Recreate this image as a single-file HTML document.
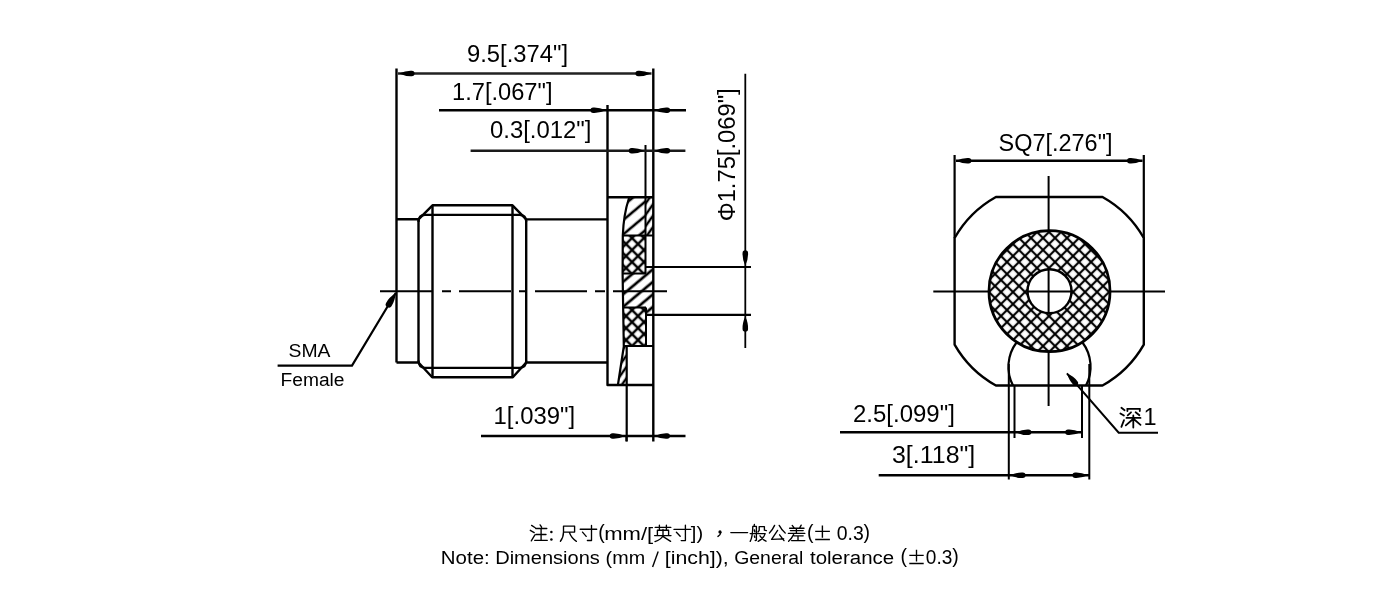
<!DOCTYPE html>
<html><head><meta charset="utf-8"><title>SMA drawing</title>
<style>
html,body{margin:0;padding:0;background:#fff;width:1400px;height:600px;overflow:hidden;}
svg{display:block;filter:grayscale(1);}
text{font-family:"Liberation Sans",sans-serif;fill:#000;}
</style></head><body>
<svg width="1400" height="600" viewBox="0 0 1400 600">
<defs>
  <path id="ar" d="M0,0 Q7,-3.1 12.8,-2.75 A2.75,2.75 0 0 1 12.8,2.75 Q7,3.1 0,0 Z"/>
  <pattern id="xh" width="8.49" height="8.49" patternUnits="userSpaceOnUse" patternTransform="translate(1025,244) rotate(45)">
    <rect x="0" y="0" width="1.12" height="8.49"/><rect x="7.37" y="0" width="1.12" height="8.49"/>
    <rect x="0" y="0" width="8.49" height="1.12"/><rect x="0" y="7.37" width="8.49" height="1.12"/>
  </pattern>
  <pattern id="xh2" width="8.49" height="8.49" patternUnits="userSpaceOnUse" patternTransform="translate(632,238) rotate(45)">
    <rect x="0" y="0" width="1.25" height="8.49"/><rect x="7.24" y="0" width="1.25" height="8.49"/>
    <rect x="0" y="0" width="8.49" height="1.25"/><rect x="0" y="7.24" width="8.49" height="1.25"/>
  </pattern>
  <pattern id="hh" width="11" height="11" patternUnits="userSpaceOnUse" patternTransform="translate(626.25,217.5) rotate(-40)">
    <rect x="0" y="0" width="11" height="1.3"/><rect x="0" y="9.7" width="11" height="1.3"/>
  </pattern>
  <pattern id="hh2" width="9.6" height="9.6" patternUnits="userSpaceOnUse" patternTransform="translate(633,286) rotate(-40)">
    <rect x="0" y="0" width="9.6" height="1.35"/><rect x="0" y="8.25" width="9.6" height="1.35"/>
  </pattern>
  <pattern id="hh3" width="6.5" height="6.5" patternUnits="userSpaceOnUse" patternTransform="translate(649,210) rotate(-55)">
    <rect x="0" y="0" width="6.5" height="1.2"/><rect x="0" y="5.3" width="6.5" height="1.2"/>
  </pattern>
</defs>

<!-- ===== LEFT VIEW: hatch fills ===== -->
<path d="M629,198 H645.5 V235.5 H622.8 Q623.5,215 629,198 Z" fill="url(#hh)"/>
<path d="M645.5,198 H653.3 V235.5 H645.5 Z" fill="url(#hh3)"/>
<path d="M622.8,235.5 H645.5 V273.5 H622.6 Z" fill="url(#xh2)"/>
<path d="M622.6,273.5 H646 V267 H653.3 V314.5 H646 V307.5 H623.2 Z" fill="url(#hh2)"/>
<path d="M623.2,307.5 H645.5 V346 H623.8 Z" fill="url(#xh2)"/>
<path d="M623.8,346.5 H626.7 V384.5 H618 Z" fill="url(#hh3)"/>

<g fill="none" stroke="#000" stroke-width="2.4" stroke-linecap="butt" stroke-linejoin="round">
  <!-- left extension / outline -->
  <path d="M396.5,68.5 V362.5"/>
  <path d="M396.5,219.3 H418.5 L432.5,205.3 H512.5 L526.2,219.4 H607.5"/>
  <path d="M396.5,362.5 H418.5 L432.2,377.3 H512.8 L526.2,362.5 H607.5"/>
  <path d="M418.5,219.5 V362.5 M432.5,205.5 V377.5 M512.5,205.5 V377.5 M526.2,219 V362.5"/>
  <path d="M418.5,222 Q418.5,214.8 425,214.8 H519.5 Q526.2,214.8 526.2,222 M418.5,360.5 Q418.5,367.8 425,367.8 H519.5 Q526.2,367.8 526.2,360.5" stroke-width="2.2"/>
  <!-- flange -->
  <path d="M607.5,105 V385 H653.3"/>
  <path d="M607.5,197.2 H653.3"/>
  <path d="M653.3,68.5 V441.5"/>
  <path d="M645.5,145 V273.5 M646,307.5 V346" stroke-width="2"/>
  <path d="M629,198 Q623.5,215 622.8,235.5 L622.6,273.5 L623.8,346.5 L618,384.5" stroke-width="2.2"/>
  <path d="M622.8,235.5 H653.3 M622.6,273.5 H646 M623.2,307.5 H646 M623.8,346 H653.3" stroke-width="2.2"/>
  <path d="M626.7,346 V441.5" stroke-width="2.2"/>
  <path d="M646,267 H751 M646,314.8 H751" stroke-width="2.2"/>
</g>

<!-- centre line left view -->
<path d="M380,291.2 H667" stroke="#000" stroke-width="2" stroke-dasharray="53,9,9,8,52,8,8,8,52,8,10,8,60" fill="none"/>

<!-- dimension lines -->
<g fill="none" stroke="#000" stroke-width="2">
  <path d="M398,73.5 H651.5" stroke="#222" stroke-width="2.4"/>
  <path d="M439,110.3 H686" stroke-width="2.5"/>
  <path d="M470.6,150.8 H685.4" stroke="#1a1a1a" stroke-width="2.5"/>
  <path d="M481,436 H685.5" stroke-width="2.5"/>
  <path d="M745.3,73.8 V348" stroke-width="1.8"/>
  <path d="M626.4,436 V441.3"/>
  <path d="M277.6,365.6 H352 L395.7,293" stroke-width="2.2"/>
</g>
<g fill="#000">
  <use href="#ar" transform="translate(399,73.5)"/>
  <use href="#ar" transform="translate(651,73.5) rotate(180)"/>
  <use href="#ar" transform="translate(606,110.3) rotate(180)"/>
  <use href="#ar" transform="translate(654.6,110.3)"/>
  <use href="#ar" transform="translate(644.3,150.8) rotate(180)"/>
  <use href="#ar" transform="translate(654.6,150.8)"/>
  <use href="#ar" transform="translate(625.3,436) rotate(180)"/>
  <use href="#ar" transform="translate(654.4,436)"/>
  <use href="#ar" transform="translate(745.3,265.8) rotate(-90)"/>
  <use href="#ar" transform="translate(745.3,316.2) rotate(90)"/>
  <use href="#ar" transform="translate(395.7,293) rotate(121) scale(1.05,1.15)"/>
</g>

<!-- left view texts -->
<g font-size="23.5">
  <text x="467" y="62" textLength="101" lengthAdjust="spacingAndGlyphs">9.5[.374"]</text>
  <text x="452" y="100.3" textLength="100.5" lengthAdjust="spacingAndGlyphs">1.7[.067"]</text>
  <text x="490" y="138.3" textLength="101.5" lengthAdjust="spacingAndGlyphs">0.3[.012"]</text>
  <text x="493.6" y="423.7" textLength="81.5" lengthAdjust="spacingAndGlyphs">1[.039"]</text>
  <text transform="translate(734.6,221.3) rotate(-90)" x="0" y="0" textLength="133" lengthAdjust="spacingAndGlyphs">&#934;1.75[.069"]</text>
</g>
<g font-size="18">
  <text x="288.5" y="357.4" textLength="42" lengthAdjust="spacingAndGlyphs">SMA</text>
  <text x="280.5" y="386.4" textLength="64" lengthAdjust="spacingAndGlyphs">Female</text>
</g>

<!-- ===== RIGHT VIEW ===== -->
<g fill="none" stroke="#000" stroke-width="2.4" stroke-linejoin="round">
  <path d="M995.9,197 H1102.5 A108.5,108.5 0 0 1 1143.8,238 V344.6 A108.5,108.5 0 0 1 1102.5,385.5 H995.9 A108.5,108.5 0 0 1 954.6,344.6 V238 A108.5,108.5 0 0 1 995.9,197 Z"/>
  <path d="M954.6,155 V238 M1143.8,155 V238" stroke-width="2.2"/>
  <!-- recess arcs -->
  <path d="M1016.5,342.5 A40.5,40.5 0 0 0 1013,385.5" stroke-width="2.2"/>
  <path d="M1082.5,342.5 A40.5,40.5 0 0 1 1086,385.5" stroke-width="2.2"/>
</g>
<g fill="none" stroke="#000" stroke-width="2">
  <path d="M1048.6,176 V406" stroke-width="2"/>
  <path d="M933.3,291.5 H1165" stroke-width="2"/>
</g>
<path id="annw" d="M1049.5,291.2 m-60.5,0 a60.5,60.5 0 1,0 121,0 a60.5,60.5 0 1,0 -121,0 Z m38.5,0 a22,22 0 1,1 44,0 a22,22 0 1,1 -44,0 Z" fill="#fff" fill-rule="evenodd"/>
<path d="M1049.5,291.2 m-60.5,0 a60.5,60.5 0 1,0 121,0 a60.5,60.5 0 1,0 -121,0 Z m38.5,0 a22,22 0 1,1 44,0 a22,22 0 1,1 -44,0 Z" fill="url(#xh)" fill-rule="evenodd"/>
<g fill="none" stroke="#000" stroke-width="2">
  <path d="M956,160.7 H1142.5" stroke-width="2.5"/>
  <path d="M1008.8,364 V479.5 M1089.3,364 V479.5" stroke-width="2"/>
  <path d="M1014.5,385.5 V438 M1082,385.5 V438" stroke-width="2"/>
  <path d="M840,432.25 H1082" stroke-width="2.6"/>
  <path d="M878.7,475.3 H1089.3" stroke-width="2.6"/>
  <path d="M1066.9,373.3 L1118.7,432.7 H1158" stroke-width="2"/>
  <circle cx="1049.5" cy="291.2" r="60.5" stroke-width="2.8"/>
  <circle cx="1049.5" cy="291.2" r="22" stroke-width="2.4"/>
</g>
<g fill="#000">
  <use href="#ar" transform="translate(955.8,160.7)"/>
  <use href="#ar" transform="translate(1142.6,160.7) rotate(180)"/>
  <use href="#ar" transform="translate(1015.8,432.3)"/>
  <use href="#ar" transform="translate(1080.8,432.3) rotate(180)"/>
  <use href="#ar" transform="translate(1010,475.3)"/>
  <use href="#ar" transform="translate(1088,475.3) rotate(180)"/>
  <use href="#ar" transform="translate(1066.9,373.3) rotate(48.9)"/>
</g>
<g font-size="23.5">
  <text x="998.5" y="150.7" textLength="114" lengthAdjust="spacingAndGlyphs">SQ7[.276"]</text>
  <text x="853" y="421.5" textLength="101.8" lengthAdjust="spacingAndGlyphs">2.5[.099"]</text>
  <text x="892" y="462.8" textLength="83.3" lengthAdjust="spacingAndGlyphs">3[.118"]</text>
  <text x="1143.5" y="425">1</text>
</g>
<!-- 深 -->
<g fill="none" stroke="#000" stroke-width="1.8" stroke-linecap="round">
  <path d="M1121.4,407.8 L1124.6,410.2 M1120.4,413.4 L1123.9,415.5 M1121.4,426.8 L1124,420.2"/>
  <path d="M1127.4,411 V408.8 H1139.8 V411"/>
  <path d="M1131,412.3 L1127.7,415.3 M1135.6,412.3 L1139.4,415.3"/>
  <path d="M1126.5,417.9 H1140.5 M1133.3,415.5 V427.5 M1132.8,419.3 L1125.8,425.4 M1134,419.3 L1140.5,424.9"/>
</g>

<!-- ===== NOTES ===== -->
<g font-size="17.6">
  <text x="598.2" y="539.2" font-size="19.5">(</text>
  <text x="604.2" y="540.3" textLength="49" lengthAdjust="spacingAndGlyphs">mm/[</text>
  <text x="690.8" y="539.2" font-size="19" textLength="12.3" lengthAdjust="spacingAndGlyphs">])</text>
  <text x="807" y="539.2" font-size="19.5">(</text>
  <text x="836.8" y="540" font-size="19.4" textLength="27" lengthAdjust="spacingAndGlyphs">0.3</text>
  <text x="863.4" y="539.2" font-size="19.5">)</text>
<!--L2START-->
  <text x="440.80" y="563.7" textLength="48.90" lengthAdjust="spacingAndGlyphs">Note:</text>
  <text x="495.20" y="563.7" textLength="104.70" lengthAdjust="spacingAndGlyphs">Dimensions</text>
  <text x="605.60" y="563.7" textLength="39.50" lengthAdjust="spacingAndGlyphs">(mm</text>
  <text x="664.80" y="563.7" textLength="63.90" lengthAdjust="spacingAndGlyphs">[inch]),</text>
  <text x="734.20" y="563.7" textLength="69.10" lengthAdjust="spacingAndGlyphs">General</text>
  <text x="810.00" y="563.7" textLength="84.10" lengthAdjust="spacingAndGlyphs">tolerance</text>

<!--L2END-->
  <text x="900.6" y="563.3" font-size="19.5">(</text>
  <text x="925.8" y="564" font-size="19.5" textLength="26.5" lengthAdjust="spacingAndGlyphs">0.3</text>
  <text x="952.2" y="563.3" font-size="19.5">)</text>

</g>
<g fill="#000">
  <circle cx="551.4" cy="532.1" r="1.25"/><circle cx="551.4" cy="539.4" r="1.25"/>
  <circle cx="720" cy="531.9" r="1.6"/>
</g>
<g fill="none" stroke="#000" stroke-width="1.35" stroke-linecap="round" stroke-linejoin="round">
  <!-- 注 -->
  <path d="M531.6,525.4 L535.2,527.7 M530.3,530.3 L534.2,532.6 M531.3,540.8 L534.9,534.9 M540.1,524.9 L541.6,527.2 M535.7,528.5 H546.8 M541.1,528.5 V540.3 M536,534.5 H546 M534.7,540.3 H547.3"/>
  <!-- 尺 -->
  <path d="M563.5,526.1 H574.6 V532.1 H563.5 M563.5,526.1 V532.1 Q563.5,537.5 560.4,541.3 M569.2,532.1 Q571.5,538.5 576.4,541.3"/>
  <!-- 寸 -->
  <path d="M580.2,529.2 H596.7 M591.5,525.4 V540.5 H587.4 M582.5,532.1 L586.2,536.4"/>
  <!-- 英 -->
  <path d="M655.2,527.4 H670.8 M659.4,525.2 V529.6 M666.4,525.2 V529.6 M657.4,535.4 V530.2 H668.6 V535.4 M654.6,535.6 H671 M663,529.4 V535.8 Q661,539.6 655,541.6 M663.2,536.6 L670.6,541.4"/>
  <!-- 寸 -->
  <path d="M674,529.4 H690.8 M685.4,525.2 V540.6 H681.2 M676.4,532.2 L680.2,536.2"/>
  <!-- ， -->
  <path d="M720.8,532.5 Q720.4,535 718,536.4" stroke-width="1.5"/>
  <!-- ± -->
  <path d="M815.2,531.4 H829.9 M822.4,525.6 V537.7 M815.2,539.5 H829.9" stroke-width="1.4" stroke-linecap="butt"/>
  <path d="M909.3,555.3 H923.7 M916.5,549.8 V561.5 M909.3,563.5 H923.7" stroke-width="1.35" stroke-linecap="butt"/>
  <path d="M652.6,567 L658.2,551.6" stroke-width="1.4" stroke-linecap="butt"/>
  <!-- 一 -->
  <path d="M730.8,532.6 H747.6"/>
  <!-- 般 -->
  <path d="M754.4,524.4 L754,526.4 M752.8,526.4 H756.4 V540.2 L755.2,540.6 M752.8,526.4 Q752.6,537 750.2,541.4 M754.4,530 L754.8,531.8 M754.4,536 L754.8,537.4 M750.2,533.6 H757.6"/>
  <path d="M759.2,526.6 V530.4 L758,532 M759.2,526.6 H764.4 V530.2 L766.4,530.6 M758.4,533.6 H765.2 Q763.5,538.8 758.2,541.4 M760,535.8 Q762.5,539.5 766,541.2"/>
  <!-- 公 -->
  <path d="M774.6,525.4 Q772.5,530 769.4,533 M779.2,525.4 Q782,530.5 785.2,533 M777.6,530.4 L771.6,539.4 L783.6,538.8 M779.6,534.8 L784,540.6"/>
  <!-- 差 -->
  <path d="M792.2,525.4 L794,527.6 M801.2,525.2 L799.8,527.6 M789.6,528.2 H804 M790.4,530.6 H803.2 M788.4,533.4 H804.8 M796.4,528.2 V533.4 M794,535.8 H803.2 M798,535.8 V540.6 M791.6,540.6 H804.8 M793.6,534.6 Q791.5,538.8 788.6,541.2"/>
</g>
</svg>
</body></html>
